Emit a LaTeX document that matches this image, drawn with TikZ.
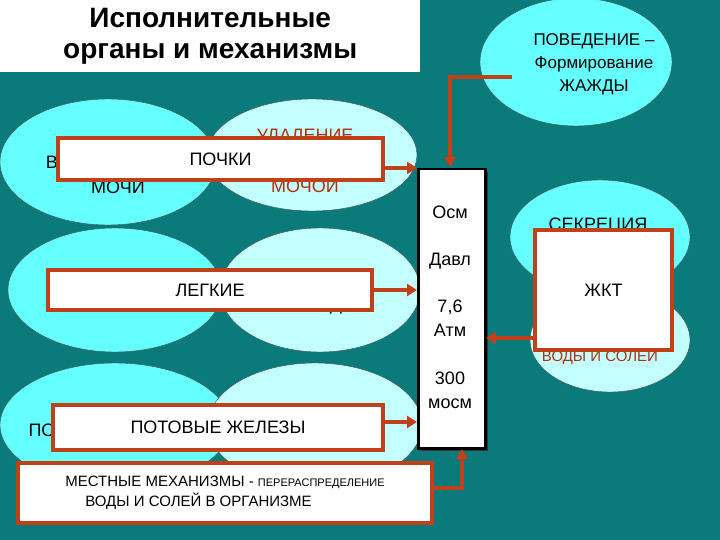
\documentclass[tikz,border=0pt]{standalone}
\usepackage{fontspec}
\setmainfont{Liberation Sans}
\usetikzlibrary{arrows.meta}
\definecolor{bg}{HTML}{0B7A7A}
\definecolor{cyanA}{HTML}{66FFFF}
\definecolor{cyanB}{HTML}{C4FFFF}
\definecolor{arr}{HTML}{C0401A}
\definecolor{txtred}{HTML}{B03010}
\tikzset{
 ellA/.style={draw=black!70,thin,fill=cyanA},
 ellB/.style={draw=black!70,thin,fill=cyanB},
 organ/.style={draw=arr,line width=3.5pt,fill=white,inner sep=0pt,font=\fontsize{18}{20}\selectfont},
 link/.style={arr,line width=4.5pt,-{Triangle[length=10pt,width=12pt]}},
 lbl/.style={font=\fontsize{18}{20}\selectfont,inner sep=0pt}
}
\begin{document}
\begin{tikzpicture}[x=1pt,y=-1pt]
\fill[bg] (0,0) rectangle (720,540);
\useasboundingbox (0,0) rectangle (720,540);
% title
\node[fill=white,minimum width=420pt,minimum height=72pt,anchor=north west,align=center,inner sep=0pt,
 font=\bfseries\fontsize{28}{31}\selectfont] (title) at (0,0) {Исполнительные\\органы и механизмы};
% behaviour
\draw[ellA] (576,62) ellipse [x radius=96,y radius=64];
\node[lbl,align=center,font=\fontsize{17}{23}\selectfont] (behT) at (594,64) {ПОВЕДЕНИЕ –\\Формирование\\ЖАЖДЫ};
% row 1
\draw[ellA] (108,162) ellipse [x radius=108,y radius=63];
\draw[ellB] (312,155) ellipse [x radius=105,y radius=56];
\node[lbl] (r1a) at (52,162) {В};
\node[lbl] (r1b) at (118,187) {МОЧИ};
\node[lbl,text=txtred] (r1c) at (305,137) {УДАЛЕНИЕ};
\node[lbl,text=txtred] (r1d) at (305,184) {МОЧОЙ};
% row 2
\draw[ellA] (115,290) ellipse [x radius=107,y radius=62];
\draw[ellB] (320,290) ellipse [x radius=100,y radius=62];
\node[lbl] (r2a) at (336,306) {Д};
% row 3
\draw[ellA] (115,425) ellipse [x radius=115,y radius=62];
\draw[ellB] (315,425) ellipse [x radius=107,y radius=62];
\node[lbl] (r3a) at (42,430) {ПО};
% right ellipses
\draw[ellB] (610,340) ellipse [x radius=80,y radius=52];
\draw[ellA] (600,237) ellipse [x radius=90,y radius=57];
\node[lbl] (secr) at (598,226) {СЕКРЕЦИЯ};
\node[lbl,text=txtred,font=\fontsize{15}{17}\selectfont] (vs) at (600,356) {ВОДЫ И СОЛЕЙ};
% organs
\node[organ,minimum width=325pt,minimum height=42pt] (kid) at (220.5,159) {ПОЧКИ};
\node[organ,minimum width=324pt,minimum height=40pt] (lung) at (210,290) {ЛЕГКИЕ};
\node[organ,minimum width=330pt,minimum height=45pt] (sweat) at (218,427.5) {ПОТОВЫЕ ЖЕЛЕЗЫ};
\node[organ,minimum width=137pt,minimum height=120pt] (gut) at (603.5,290) {ЖКТ};
\node[organ,minimum width=414pt,minimum height=60pt,align=left,font=\fontsize{15}{20}\selectfont] (loc) at (225,493)
 {МЕСТНЫЕ МЕХАНИЗМЫ - {\fontsize{11}{13}\selectfont ПЕРЕРАСПРЕДЕЛЕНИЕ}\\\hspace*{20pt}ВОДЫ И СОЛЕЙ В ОРГАНИЗМЕ};
% central column
\fill[black!80] (421,172) rectangle (488,451);
\node[draw=black,line width=2.5pt,fill=white,minimum width=67pt,minimum height=279pt,anchor=north west,inner sep=0pt] (col) at (417,168) {};
\node[lbl] (o1) at (450,212) {Осм};
\node[lbl] (o2) at (450,261) {Давл};
\node[lbl,align=center,font=\fontsize{18}{24}\selectfont] (o3) at (450,318) {7,6\\Атм};
\node[lbl,align=center,font=\fontsize{18}{24}\selectfont] (o4) at (450,390) {300\\мосм};
% link points
\coordinate (k1) at (385,168); \coordinate (k2) at (417,168);
\coordinate (s1) at (385,422); \coordinate (s2) at (417,422);
\coordinate (g1) at (533,338); \coordinate (g2) at (486,338);
\coordinate (b1) at (512,77); \coordinate (b2) at (450,77); \coordinate (b3) at (450,167);
\coordinate (l1) at (434,488); \coordinate (l2) at (462,488); \coordinate (l3) at (462,449);
% links
\draw[link] (k1) -- (k2);
\draw[link] (lung.east) -- (col.west|-lung.east);
\draw[link] (s1) -- (s2);
\draw[link] (g1) -- (g2);
\draw[link] (b1) -- (b2) -- (b3);
\draw[link] (l1) -- (l2) -- (l3);
\end{tikzpicture}
\end{document}
